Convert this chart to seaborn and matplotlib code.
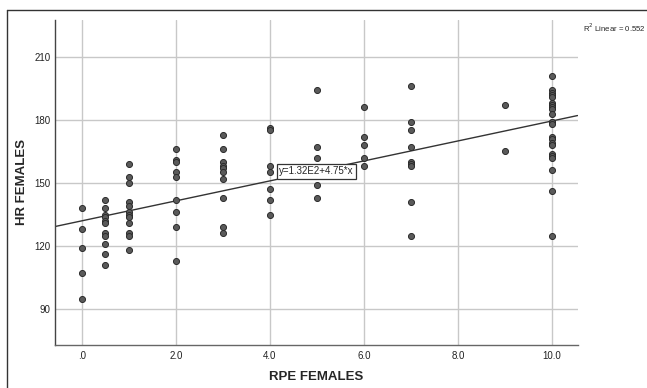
import numpy as np
import pandas as pd
import matplotlib.pyplot as plt
import seaborn as sns
from matplotlib.lines import Line2D

# HR readings grouped by RPE score
hr_rpe0 = [138, 128, 119, 107, 95]
hr_rpe05 = [142, 138, 135, 134, 132, 131, 126, 125, 121, 116, 111]
hr_rpe1 = [159, 153, 150, 141, 139, 136, 135, 134, 131, 126, 125, 118]
hr_rpe2 = [166, 161, 160, 155, 153, 142, 136, 129, 113]
hr_rpe3 = [173, 166, 160, 158, 157, 155, 152, 143, 129, 126]
hr_rpe4 = [176, 175, 158, 155, 147, 142, 135]
hr_rpe5 = [194, 167, 162, 149, 143]
hr_rpe6 = [186, 172, 168, 162, 158]
hr_rpe7 = [196, 179, 175, 167, 160, 159, 158, 141, 125]
hr_rpe9 = [187, 165]
hr_rpe10 = [201, 194, 193, 192, 191, 188, 187, 186, 185, 183, 179, 179,
            178, 172, 171, 169, 168, 164, 163, 162, 156, 146, 125]

rpe_levels = [0, 0.5, 1, 2, 3, 4, 5, 6, 7, 9, 10]
hr_groups = [hr_rpe0, hr_rpe05, hr_rpe1, hr_rpe2, hr_rpe3, hr_rpe4,
             hr_rpe5, hr_rpe6, hr_rpe7, hr_rpe9, hr_rpe10]

fit_intercept = 132
fit_slope = 4.75
fit_label = 'y=1.32E2+4.75*x'
r2_value = 0.552

x_ticks = [0, 2, 4, 6, 8, 10]
x_tick_labels = ['.0', '2.0', '4.0', '6.0', '8.0', '10.0']
y_ticks = [90, 120, 150, 180, 210]

df = pd.DataFrame({
    'rpe': [r for r, g in zip(rpe_levels, hr_groups) for _ in g],
    'hr': [h for g in hr_groups for h in g],
})

sns.set_style('white')
plt.rcParams['font.family'] = ['Liberation Sans', 'DejaVu Sans']

fig = plt.figure(figsize=(6.47, 3.88), dpi=100)
ax = fig.add_axes([0.085, 0.111, 0.8077, 0.8375])

ax.set_axisbelow(True)
ax.grid(True, color='#c8c8c8', linewidth=1.0)

sns.scatterplot(data=df, x='rpe', y='hr', ax=ax, s=19, color='#5a5a5a',
                edgecolor='#2b2b2b', linewidth=0.7, zorder=3)

ax.axline((0, fit_intercept), slope=fit_slope, color='#333333', linewidth=1.0, zorder=2)

ax.set_xlim(-0.57, 10.54)
ax.set_ylim(73, 227.5)
ax.set_xticks(x_ticks)
ax.set_xticklabels(x_tick_labels)
ax.set_yticks(y_ticks)
ax.tick_params(axis='both', length=0, labelsize=7, colors='#222222')
ax.tick_params(axis='x', pad=4.5)
ax.tick_params(axis='y', pad=3)

for side in ['top', 'right']:
    ax.spines[side].set_visible(False)
ax.spines['left'].set_color('#444444')
ax.spines['bottom'].set_color('#666666')
ax.spines['left'].set_linewidth(1.0)
ax.spines['bottom'].set_linewidth(1.0)

ax.set_xlabel('RPE FEMALES', fontsize=9.5, fontweight='bold', va='center')
ax.set_ylabel('HR FEMALES', fontsize=9.5, fontweight='bold', va='center')
ax.xaxis.set_label_coords(0.5, -0.098)
ax.yaxis.set_label_coords(-0.063, 0.5)

ax.text(4.99, 155.6, fit_label, fontsize=7, ha='center', va='center', zorder=4,
        bbox=dict(boxstyle='square,pad=0.25', facecolor='white', edgecolor='#333333', linewidth=0.9))

fig.text(0.901, 0.928, f'R$^2$ Linear = {r2_value}', fontsize=5.6, ha='left', va='center')

# outer frame (top and left edges)
fig.add_artist(Line2D([0.0104, 0.0104], [0.0, 0.974], color='#333333', linewidth=1.0))
fig.add_artist(Line2D([0.0104, 1.0], [0.974, 0.974], color='#333333', linewidth=1.0))

fig.savefig('out.png', dpi=100)
